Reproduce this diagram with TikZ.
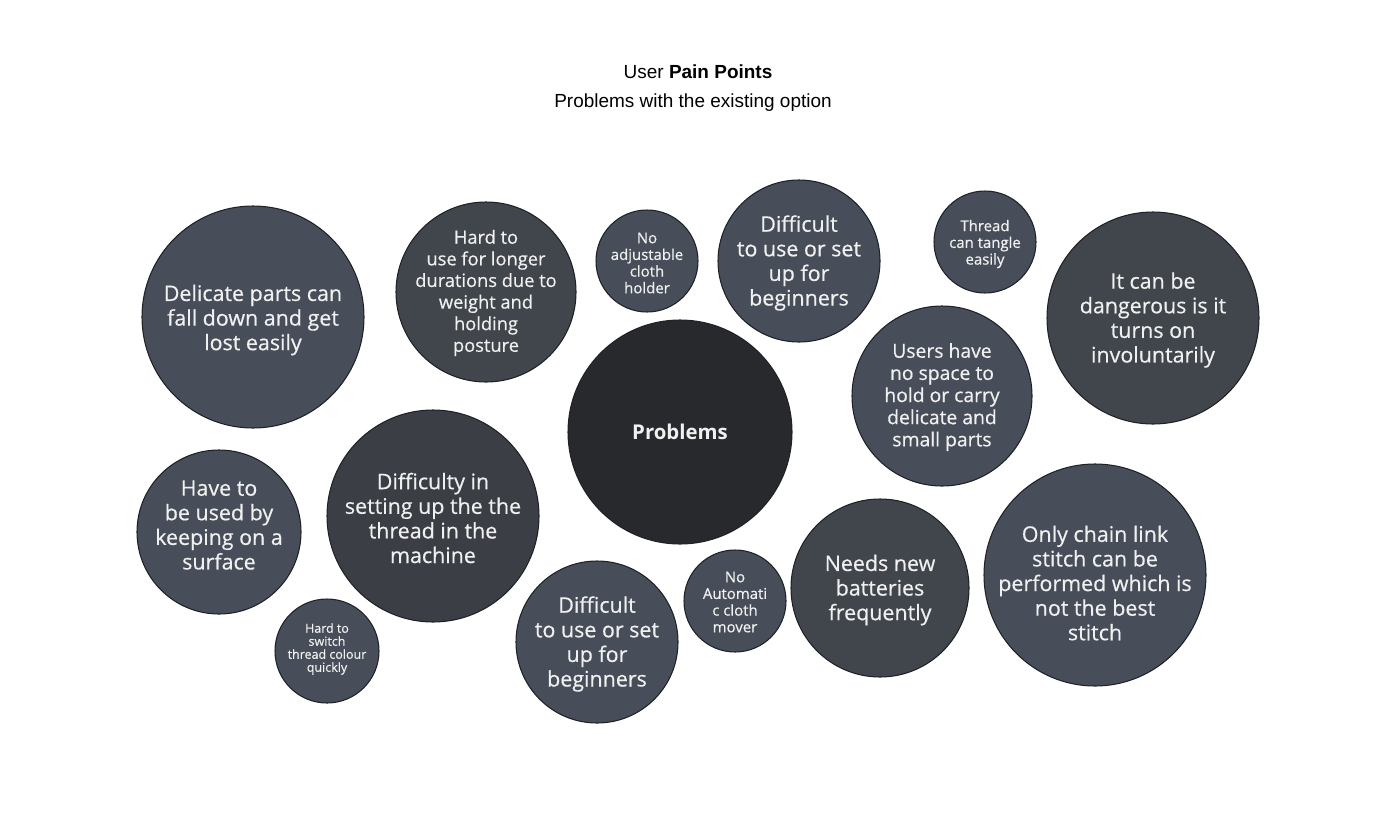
\documentclass[tikz,border=0pt]{standalone}
\usepackage{fontspec}
\setmainfont{Open Sans}
\newfontfamily\headfont{Liberation Sans}
\newfontfamily\bubblefont[FakeBold=0.5]{Open Sans}
\usetikzlibrary{positioning}

\definecolor{slate}{HTML}{474E59}
\definecolor{slatedark}{HTML}{41464C}
\definecolor{slatedeep}{HTML}{3B3F45}
\definecolor{core}{HTML}{28292C}
\definecolor{rim}{HTML}{1E2126}
\definecolor{ink}{HTML}{F0F0F0}

\tikzset{
  rimline/.style={draw=rim, line width=0.3pt},
  bigtxt/.style={text=ink, align=center, inner sep=0pt, font=\bubblefont\fontsize{6.1}{7}\selectfont},
  midtxt/.style={text=ink, align=center, inner sep=0pt, font=\bubblefont\fontsize{5.2}{6.15}\selectfont},
  smalltxt/.style={text=ink, align=center, inner sep=0pt, font=\bubblefont\fontsize{4.25}{4.75}\selectfont},
  tinytxt/.style={text=ink, align=center, inner sep=0pt, font=\bubblefont\fontsize{3.55}{3.7}\selectfont},
}

\begin{document}
\begin{tikzpicture}
  \useasboundingbox (0,0) rectangle (14,8.13);
  %
  % Heading
  \node[font=\headfont\fontsize{5.4}{6.5}\selectfont] (head) at (6.98,7.41) {User \textbf{Pain Points}};
  \node[font=\headfont\fontsize{5.4}{6.5}\selectfont] (subhead) at (6.93,7.10) {Problems with the existing option};
  %
  % Bubbles
  \draw[rimline, fill=slate] (2.53,4.96) circle (1.11);
  \node[bigtxt] (delicate) at (2.53,4.93) {Delicate parts can\\fall down and get\\lost easily};

  \draw[rimline, fill=slatedark] (4.86,5.21) circle (0.90);
  \node[midtxt] (hardUse) at (4.86,5.20) {Hard to\\use for longer\\durations due to\\weight and\\holding\\posture};

  \draw[rimline, fill=slate] (6.47,5.52) circle (0.51);
  \node[smalltxt] (noHolder) at (6.47,5.50) {No\\adjustable\\cloth\\holder};

  \draw[rimline, fill=slate] (7.99,5.52) circle (0.81);
  \node[bigtxt] (diffTop) at (7.99,5.50) {Difficult\\to use or set\\up for\\beginners};

  \draw[rimline, fill=slate] (9.85,5.71) circle (0.51);
  \node[smalltxt] (tangle) at (9.85,5.69) {Thread\\can tangle\\easily};

  \draw[rimline, fill=slatedark] (11.53,4.95) circle (1.06);
  \node[bigtxt] (danger) at (11.53,4.93) {It can be\\dangerous is it\\turns on\\involuntarily};

  \draw[rimline, fill=slate] (9.42,4.17) circle (0.90);
  \node[midtxt, font=\bubblefont\fontsize{5.5}{6.3}\selectfont] (noSpace) at (9.42,4.16) {Users have\\no space to\\hold or carry\\delicate and\\small parts};

  \draw[rimline, fill=core] (6.80,3.81) circle (1.12);
  \node[bigtxt, font=\fontsize{5.8}{7}\selectfont\bfseries] (problems) at (6.80,3.81) {Problems};

  \draw[rimline, fill=slate] (2.19,2.81) circle (0.82);
  \node[bigtxt] (surface) at (2.19,2.88) {Have to\\be used by\\keeping on a\\surface};

  \draw[rimline, fill=slatedeep] (4.33,2.97) circle (1.06);
  \node[bigtxt] (setThread) at (4.33,2.95) {Difficulty in\\setting up the the\\thread in the\\machine};

  \draw[rimline, fill=slate] (3.27,1.62) circle (0.52);
  \node[tinytxt] (switchColour) at (3.27,1.64) {Hard to\\switch\\thread colour\\quickly};

  \draw[rimline, fill=slate] (5.97,1.71) circle (0.81);
  \node[bigtxt] (diffBottom) at (5.97,1.69) {Difficult\\to use or set\\up for\\beginners};

  \draw[rimline, fill=slate] (7.35,2.12) circle (0.51);
  \node[smalltxt] (mover) at (7.35,2.11) {No\\Automati\\c cloth\\mover};

  \draw[rimline, fill=slatedark] (8.80,2.25) circle (0.89);
  \node[bigtxt] (batteries) at (8.80,2.23) {Needs new\\batteries\\frequently};

  \draw[rimline, fill=slate] (10.95,2.38) circle (1.11);
  \node[bigtxt] (chainLink) at (10.95,2.30) {Only chain link\\stitch can be\\performed which is\\not the best\\stitch};
\end{tikzpicture}
\end{document}
